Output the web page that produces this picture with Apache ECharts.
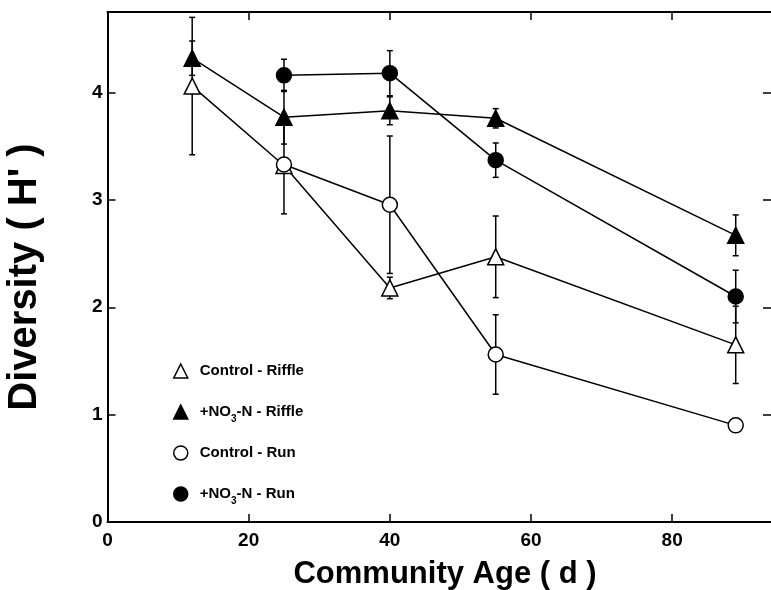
<!DOCTYPE html>
<html>
<head>
<meta charset="utf-8">
<script src="https://cdn.jsdelivr.net/npm/echarts@6/dist/echarts.min.js"></script>
<style>html,body{margin:0;padding:0;background:#fff}#c{width:771px;height:590px}</style>
</head>
<body>
<div id="c"></div>
<script>
// ---- data ----
const ages = [12, 25, 40, 55, 89];
const ctrlRiffle = [4.06, 3.32, 2.18, 2.47, 1.65];
const ctrlRiffleErr = [0.64, 0.45, 0.10, 0.38, 0.36];
const no3Riffle = [4.32, 3.77, 3.83, 3.76, 2.67];
const no3RiffleErr = [0.16, 0.25, 0.13, 0.09, 0.19];
const runAges = [25, 40, 55, 89];
const ctrlRun = [3.33, 2.955, 1.56, 0.90];
const ctrlRunErr = [0.06, 0.64, 0.37, 0.04];
const no3Run = [4.16, 4.18, 3.37, 2.10];
const no3RunErr = [0.15, 0.21, 0.16, 0.245];
const xTicks = [0, 20, 40, 60, 80];
const yTicks = [0, 1, 2, 3, 4];
const seriesNames = ['Control - Riffle', '+NO3-N - Riffle', 'Control - Run', '+NO3-N - Run'];

const FONT = 'Liberation Sans';
const chart = echarts.init(document.getElementById('c'), null, {renderer: 'canvas'});

function pts(xs, ys) { return xs.map((x, i) => [x, ys[i]]); }
function errPts(xs, ys, es) { return xs.map((x, i) => [x, ys[i], es[i]]); }

const groups = [
  {name: seriesNames[0], xs: ages, ys: ctrlRiffle, es: ctrlRiffleErr, symbol: 'triangle', fill: '#fff'},
  {name: seriesNames[1], xs: ages, ys: no3Riffle, es: no3RiffleErr, symbol: 'triangle', fill: '#000'},
  {name: seriesNames[2], xs: runAges, ys: ctrlRun, es: ctrlRunErr, symbol: 'circle', fill: '#fff'},
  {name: seriesNames[3], xs: runAges, ys: no3Run, es: no3RunErr, symbol: 'circle', fill: '#000'}
];

function errRender(params, api) {
  const x = api.value(0), y = api.value(1), e = api.value(2);
  const top = api.coord([x, y + e]);
  const bot = api.coord([x, y - e]);
  const w = 3;
  const st = {stroke: '#000', lineWidth: 1.5};
  return {
    type: 'group',
    children: [
      {type: 'line', shape: {x1: top[0], y1: top[1], x2: bot[0], y2: bot[1]}, style: st},
      {type: 'line', shape: {x1: top[0] - w, y1: top[1], x2: top[0] + w, y2: top[1]}, style: st},
      {type: 'line', shape: {x1: bot[0] - w, y1: bot[1], x2: bot[0] + w, y2: bot[1]}, style: st}
    ]
  };
}

const series = [];
groups.forEach(g => {
  series.push({
    type: 'custom', name: g.name + ' err', renderItem: errRender,
    data: errPts(g.xs, g.ys, g.es), z: 1, silent: true,
    encode: {x: 0, y: 1}
  });
});
groups.forEach((g, i) => {
  series.push({
    type: 'line', name: g.name, data: pts(g.xs, g.ys),
    symbol: g.symbol, symbolSize: g.symbol === 'triangle' ? 16 : 15,
    lineStyle: {color: '#000', width: 1.5},
    itemStyle: {color: g.fill, borderColor: '#000', borderWidth: 1.5},
    z: 3 + i, animation: false
  });
});

function axisCommon(ticks) {
  return {
    type: 'value', splitLine: {show: false},
    axisLine: {show: true, onZero: false, lineStyle: {color: '#000', width: 2}},
    axisTick: {show: true, inside: true, length: 8, customValues: ticks, lineStyle: {color: '#000', width: 1.5}}
  };
}
const labelStyle = {color: '#000', fontFamily: FONT, fontSize: 19, fontWeight: 'bold'};

chart.setOption({
  animation: false,
  backgroundColor: '#fff',
  grid: {left: 107.5, right: 0, top: 12, bottom: 68},
  xAxis: [
    Object.assign(axisCommon(xTicks), {
      position: 'bottom', min: 0, max: 94,
      axisLabel: Object.assign({show: true, margin: 9, customValues: xTicks}, labelStyle)
    }),
    Object.assign(axisCommon(xTicks), {
      position: 'top', min: 0, max: 94, axisLabel: {show: false}
    })
  ],
  yAxis: [
    Object.assign(axisCommon(yTicks), {
      position: 'left', min: 0, max: 4.75,
      axisLabel: Object.assign({show: true, margin: 5, customValues: yTicks}, labelStyle)
    }),
    Object.assign(axisCommon(yTicks), {
      position: 'right', min: 0, max: 4.75, axisLabel: {show: false},
      axisLine: {show: false, onZero: false}
    })
  ],
  legend: {
    orient: 'vertical', left: 168, top: 354,
    itemWidth: 14, itemHeight: 14, itemGap: 17,
    data: groups.map(g => ({
      name: g.name, icon: g.symbol,
      itemStyle: {color: g.fill, borderColor: '#000', borderWidth: 1.5}
    })),
    formatter: n => n.replace('NO3', 'NO{sub|3}'),
    textStyle: {
      color: '#000', fontFamily: FONT, fontSize: 15, fontWeight: 'bold', padding: [0, 0, 0, 7],
      lineHeight: 24,
      rich: {sub: {fontSize: 10, fontWeight: 'bold', fontFamily: FONT, color: '#000', lineHeight: 10, verticalAlign: 'bottom'}}
    },
    selectedMode: false
  },
  graphic: [
    {type: 'text', position: [445, 574],
      style: {text: 'Community Age ( d )', x: 0, y: 0, textAlign: 'center', textVerticalAlign: 'middle',
      font: 'bold 31px "Liberation Sans"', fill: '#000'}},
    {type: 'text', rotation: Math.PI / 2, position: [25, 277],
      style: {text: 'Diversity ( H\' )', x: 0, y: 0, textAlign: 'center', textVerticalAlign: 'middle',
      font: 'bold 40px "Liberation Sans"', fill: '#000'}}
  ],
  series: series
});
</script>
</body>
</html>
